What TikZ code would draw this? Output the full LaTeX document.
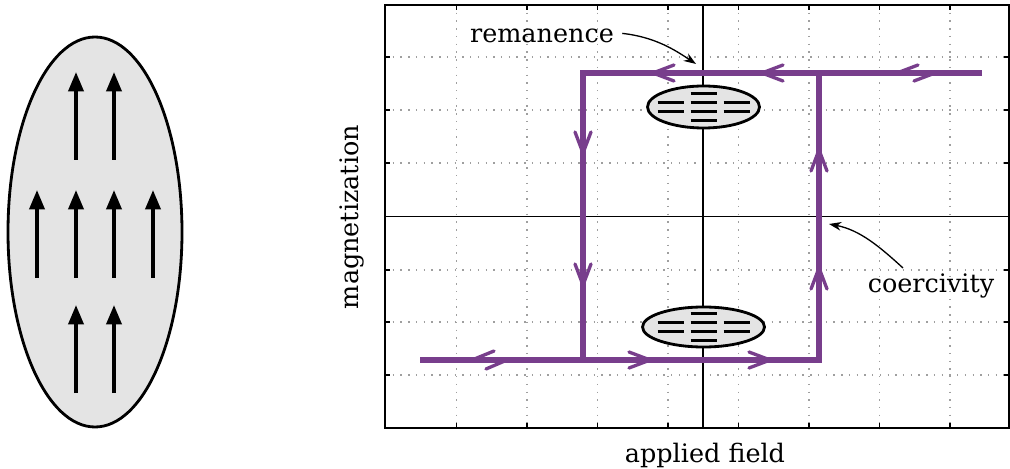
\documentclass[tikz,border=0pt]{standalone}
\usepackage{fontspec}
\setmainfont{DejaVu Serif}
\usetikzlibrary{arrows.meta}
\definecolor{loopcol}{RGB}{120,62,140}
\definecolor{grain}{RGB}{228,228,228}
\tikzset{
  px/.style={x=0.02cm,y=-0.02cm},
  griddot/.style={gray!75,line width=0.8pt,dash pattern=on 0.8pt off 3.6pt},
  axisline/.style={black,line width=0.7pt},
  frameline/.style={black,line width=1.2pt},
  loopline/.style={loopcol,line width=3.3pt,line join=miter},
  chevline/.style={loopcol,line width=1.9pt,line cap=round,line join=miter},
  spinarrow/.style={black,line width=2.1pt,-{Triangle[length=11pt,width=8.5pt]}},
  grainshape/.style={black,line width=1.6pt,fill=grain},
  bar/.style={black,line width=1.7pt},
  callout/.style={black,line width=0.75pt,-{Stealth[length=7pt,width=5pt]}},
  lbl/.style={font=\fontsize{14.5}{18}\selectfont,inner sep=0pt}
}
% open chevron on the loop: tip at (#1,#2), pointing along angle #3
\newcommand\loopchev[3]{\draw[chevline,shift={(#1,#2)},rotate=#3] (-21,-8)--(0,0)--(-21,8);}
% small magnetised grain with four rows of aligned bars
\newcommand\grainbars[2]{%
  \foreach \dx/\dy in {0/-13.5, -33/-4.5, 0/-4.5, 33/-4.5, -33/4.5, 0/4.5, 33/4.5, 0/13.5}
    \draw[bar] (#1+\dx-13,#2+\dy) -- (#1+\dx+13,#2+\dy);}
\begin{document}
\begin{tikzpicture}[px]
\useasboundingbox (0,0) rectangle (1010,469);

% ---- single-domain particle with aligned spins ----
\draw[grainshape] (95,232) ellipse [x radius=87, y radius=195];
\foreach \xx in {76,114} \draw[spinarrow] (\xx,160) -- (\xx,72);
\foreach \xx in {37,76,114,153} \draw[spinarrow] (\xx,278) -- (\xx,190);
\foreach \xx in {76,114} \draw[spinarrow] (\xx,393) -- (\xx,305);

% ---- plot grid ----
\foreach \gx in {456.5,527,597.5,668,738.5,809,879.5,950}
  \draw[griddot] (\gx,5) -- (\gx,428);
\foreach \gy in {57,110,163,270,322,375}
  \draw[griddot] (385,\gy) -- (1009,\gy);
\foreach \gx in {456.5,527,597.5,668,738.5,809,879.5,950} {
  \draw[axisline] (\gx,5) -- (\gx,10);
  \draw[axisline] (\gx,428) -- (\gx,423);}
\foreach \gy in {57,110,163,270,322,375} {
  \draw[axisline] (385,\gy) -- (390,\gy);
  \draw[axisline] (1009,\gy) -- (1004,\gy);}

% axes through the origin
\draw[axisline] (703,5) -- (703,428);
\draw[axisline] (385,216.5) -- (1009,216.5);
\draw[frameline] (385,5) rectangle (1009,428);

% ---- hysteresis loop ----
\draw[loopline] (420,360) -- (819,360) -- (819,73);
\draw[loopline] (982,73) -- (583,73) -- (583,360);
\loopchev{653}{73}{180}
\loopchev{762}{73}{180}
\loopchev{650}{360}{0}
\loopchev{770}{360}{0}
\loopchev{583}{153}{-90}
\loopchev{583}{285}{-90}
\loopchev{819}{150}{90}
\loopchev{819}{268}{90}
% reversible ends of the loop
\draw[chevline] (897,73) -- (918,65);
\draw[chevline] (914,81) -- (935,73);
\draw[chevline] (472,360) -- (494,351);
\draw[chevline] (486,369) -- (507,360);

% ---- grains at remanence ----
\draw[grainshape] (703.5,107) ellipse [x radius=56, y radius=21];
\grainbars{703.5}{107}
\draw[grainshape] (703.5,327) ellipse [x radius=61, y radius=20];
\grainbars{703.5}{327}

% ---- labels ----
\node[lbl,anchor=base] (rem) at (542,43) {remanence};
\node[lbl,anchor=base] (coe) at (931,293) {coercivity};
\node[lbl,anchor=base] (xlab) at (705,462) {applied field};
\node[lbl,rotate=90] (ylab) at (352,217) {magnetization};
\coordinate (remtip) at (696,64);
\coordinate (coetip) at (829,224);
\draw[callout] (rem.east) ++(8,-3) .. controls (655,37) and (675,50) .. (remtip);
\draw[callout] (903,268) .. controls (880,247) and (860,230) .. (coetip);
\end{tikzpicture}
\end{document}
